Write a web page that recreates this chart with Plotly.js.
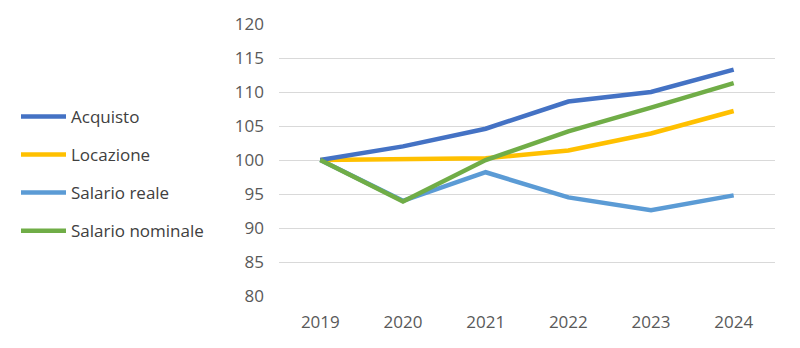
<!DOCTYPE html>
<html>
<head>
<meta charset="utf-8">
<script src="https://cdn.plot.ly/plotly-3.0.1.min.js"></script>
<style>html,body{margin:0;padding:0;background:#fff}#chart{width:800px;height:348px}</style>
</head>
<body>
<div id="chart"></div>
<script>
const years = ["2019", "2020", "2021", "2022", "2023", "2024"];
const acquisto = [100, 102.0, 104.6, 108.6, 110.0, 113.3];
const locazione = [100, 100.15, 100.25, 101.4, 103.9, 107.2];
const salarioReale = [100, 94.0, 98.2, 94.5, 92.6, 94.8];
const salarioNominale = [100, 93.9, 100, 104.2, 107.7, 111.3];
const names = ["Acquisto", "Locazione", "Salario reale", "Salario nominale"];
const colors = ["#4472C4", "#FFC000", "#5B9BD5", "#70AD47"];
const series = [acquisto, locazione, salarioReale, salarioNominale];

const drawOrder = [2, 1, 0, 3];
const traces = drawOrder.map(i => ({
  type: "scatter", mode: "lines", x: years, y: series[i], name: names[i],
  legendgroup: "g" + i, legendrank: i + 1,
  line: {color: colors[i], width: 4.5}, hoverinfo: "skip"
}));

const layout = {
  width: 800, height: 348,
  margin: {l: 279, r: 25, t: 24, b: 52},
  paper_bgcolor: "#fff", plot_bgcolor: "#fff",
  font: {family: "'Open Sans', sans-serif", size: 16, color: "#595959"},
  xaxis: {type: "category", range: [-0.5, 5.5], showgrid: false, zeroline: false, showline: false, ticks: "",
          tickfont: {size: 17, color: "#595959"}, ticklabelstandoff: 14, fixedrange: true},
  yaxis: {range: [80, 120], dtick: 5, tick0: 80, showgrid: true, gridcolor: "#d9d9d9", gridwidth: 1,
          zeroline: false, showline: false, ticks: "", tickfont: {size: 17, color: "#595959"},
          ticklabelstandoff: 14, fixedrange: true},
  showlegend: true,
  legend: {xref: "container", yref: "container", x: 0.02, y: 0.716, xanchor: "left", yanchor: "top",
           font: {size: 17, color: "#404040"}, tracegroupgap: 13, itemwidth: 45,
           bgcolor: "rgba(0,0,0,0)", traceorder: "grouped"}
};

Plotly.newPlot("chart", traces, layout, {staticPlot: true, displayModeBar: false});
</script>
</body>
</html>
